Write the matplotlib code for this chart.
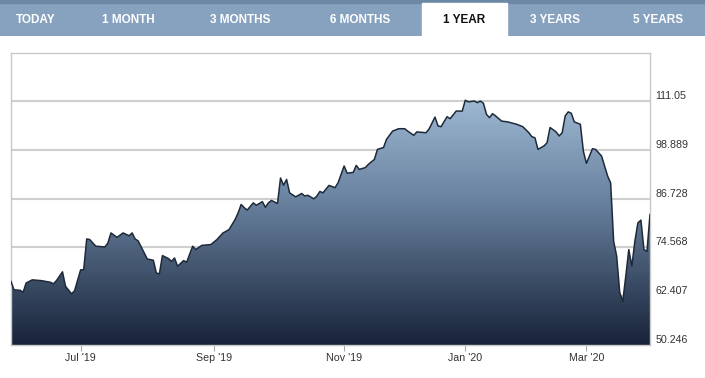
import numpy as np
import matplotlib.pyplot as plt
import matplotlib.transforms as mtransforms
from matplotlib.colors import LinearSegmentedColormap
from matplotlib.patches import Rectangle

# tabs of the range selector
tabs = ['TODAY', '1 MONTH', '3 MONTHS', '6 MONTHS', '1 YEAR', '3 YEARS', '5 YEARS']
active_tab = '1 YEAR'

# trading day number and closing price
day = [0, 1, 3, 4, 5, 7, 10, 13, 14, 15, 17, 18, 20, 21, 23, 24, 25, 26, 28, 31,
       32, 33, 35, 37, 39, 40, 41, 42, 44, 45, 47, 48, 49, 50, 52, 53, 54, 55, 57, 58,
       60, 61, 63, 66, 68, 70, 71, 72, 74, 75, 76, 77, 78, 80, 81, 83, 84, 85, 86, 88,
       89, 90, 91, 92, 94, 96, 97, 98, 100, 101, 102, 103, 105, 107, 108, 110, 111, 113, 114, 115,
       117, 118, 120, 121, 123, 124, 126, 128, 130, 131, 133, 134, 137, 138, 140, 141, 142, 144, 145, 147,
       149, 150, 151, 153, 154, 155, 156, 157, 158, 159, 160, 162, 164, 165, 167, 169, 171, 172, 173, 174,
       176, 177, 178, 180, 181, 182, 183, 184, 185, 186, 188, 189, 190, 191, 192, 193, 195, 196, 197, 198,
       199, 200, 201, 202, 203, 204, 205, 206, 207, 208, 209, 210, 211]
price = [66.1, 64.0, 63.9, 63.4, 65.7, 66.5, 66.3, 65.9, 65.5, 66.3, 68.5, 64.9, 63.0, 63.8, 69.0, 69.0, 76.7, 76.55, 74.9, 74.7,
         75.7, 78.2, 77.1, 78.2, 77.5, 78.2, 76.7, 76.2, 73.2, 71.7, 71.4, 68.2, 68.0, 72.55, 71.8, 71.1, 71.95, 69.9, 71.3, 70.9,
         74.9, 74.05, 75.1, 75.3, 76.55, 78.2, 78.6, 79.05, 81.55, 83.2, 85.3, 84.5, 83.9, 85.7, 85.1, 86.0, 84.6, 85.7, 86.3, 85.55,
         91.9, 90.1, 91.55, 88.2, 87.2, 88.05, 87.4, 87.6, 86.7, 87.4, 88.55, 88.2, 90.05, 89.5, 90.7, 94.9, 93.1, 93.3, 95.05, 94.05,
         94.5, 95.3, 96.55, 99.05, 99.5, 101.55, 103.6, 104.2, 104.2, 103.6, 102.55, 103.4, 103.2, 104.05, 107.1, 104.9, 104.7, 107.2, 106.7, 108.6,
         108.6, 111.3, 110.9, 111.1, 110.7, 111.1, 110.55, 107.8, 106.95, 107.95, 107.4, 106.1, 105.9, 105.7, 105.3, 104.7, 103.2, 102.2, 101.95, 99.05,
         99.9, 100.7, 104.5, 103.4, 102.4, 103.2, 107.4, 108.4, 108.05, 105.9, 105.3, 98.6, 95.55, 97.4, 99.2, 99.05, 97.4, 94.9, 92.4, 90.7,
         76.1, 72.4, 63.4, 61.1, 67.4, 74.05, 69.9, 76.1, 80.7, 81.4, 74.05, 73.6, 82.8]

month_day = [23, 67, 110, 150, 190]
month_labels = ["Jul '19", "Sep '19", "Nov '19", "Jan '20", "Mar '20"]
y_ticks = [50.246, 62.407, 74.568, 86.728, 98.889, 111.05]
y_top = 123.211

plt.rcParams['font.family'] = ['Liberation Sans', 'DejaVu Sans']

fig = plt.figure(figsize=(7.05, 3.78), dpi=100)

# tab bar
bar = fig.add_axes([0, 1 - 36 / 378, 1, 36 / 378])
bar.set_xlim(0, 705)
bar.set_ylim(36, 0)
bar.axis('off')
bar.add_patch(Rectangle((0, 0), 705, 36, color='#86a2bf'))
bar.add_patch(Rectangle((0, 0), 705, 2.5, color='#6d88a4'))
tab_x = [36, 128, 240, 360, 464, 555, 658]
for name, x in zip(tabs, tab_x):
    if name == active_tab:
        bar.add_patch(Rectangle((x - 42, 3), 85, 33, color='white'))
        col = '#111111'
    else:
        col = 'white'
    bar.text(x, 20, name, ha='center', va='center', color=col,
             fontsize=8.5, fontweight='bold')

# price chart
ax = fig.add_axes([11 / 705, 1 - 345 / 378, 639 / 705, 292.5 / 378])
cmap = LinearSegmentedColormap.from_list(
    'fade', [(0, '#18233a'), (0.5, '#6a83a0'), (0.83, '#9cb7d1'), (1, '#aac4dc')])
grad = np.linspace(0, 1, 256).reshape(-1, 1)
img = ax.imshow(grad, extent=[day[0], day[-1], y_ticks[0], y_top], origin='lower',
                aspect='auto', cmap=cmap, zorder=2)
area = ax.fill_between(day, price, y_ticks[0], facecolor='none', edgecolor='none')
img.set_clip_path(area.get_paths()[0], transform=ax.transData)
ax.plot(day, price, color='#1e2a39', lw=1.1, zorder=3)

ax.set_xlim(day[0], day[-1])
ax.set_ylim(y_ticks[0], y_top)
ax.set_yticks(y_ticks)
ax.set_yticklabels([str(v) for v in y_ticks])
ax.yaxis.tick_right()
ax.grid(axis='y', color='#cfcfcf', lw=1.5, zorder=0)
ax.set_axisbelow(True)
ax.tick_params(axis='y', length=0, pad=4, labelsize=7.7, labelcolor='#333333')
# value labels sit a little above their grid line
lift = mtransforms.ScaledTranslation(0, 6 / 100, fig.dpi_scale_trans)
for lab in ax.get_yticklabels():
    lab.set_transform(lab.get_transform() + lift)
ax.set_xticks(month_day)
ax.set_xticklabels(month_labels)
ax.tick_params(axis='x', length=4, color='#aaaaaa', pad=2, labelsize=7.7, labelcolor='#333333')
for s in ax.spines.values():
    s.set_color('#c8c8c8')
    s.set_linewidth(1)

fig.savefig('out.png', dpi=100)
